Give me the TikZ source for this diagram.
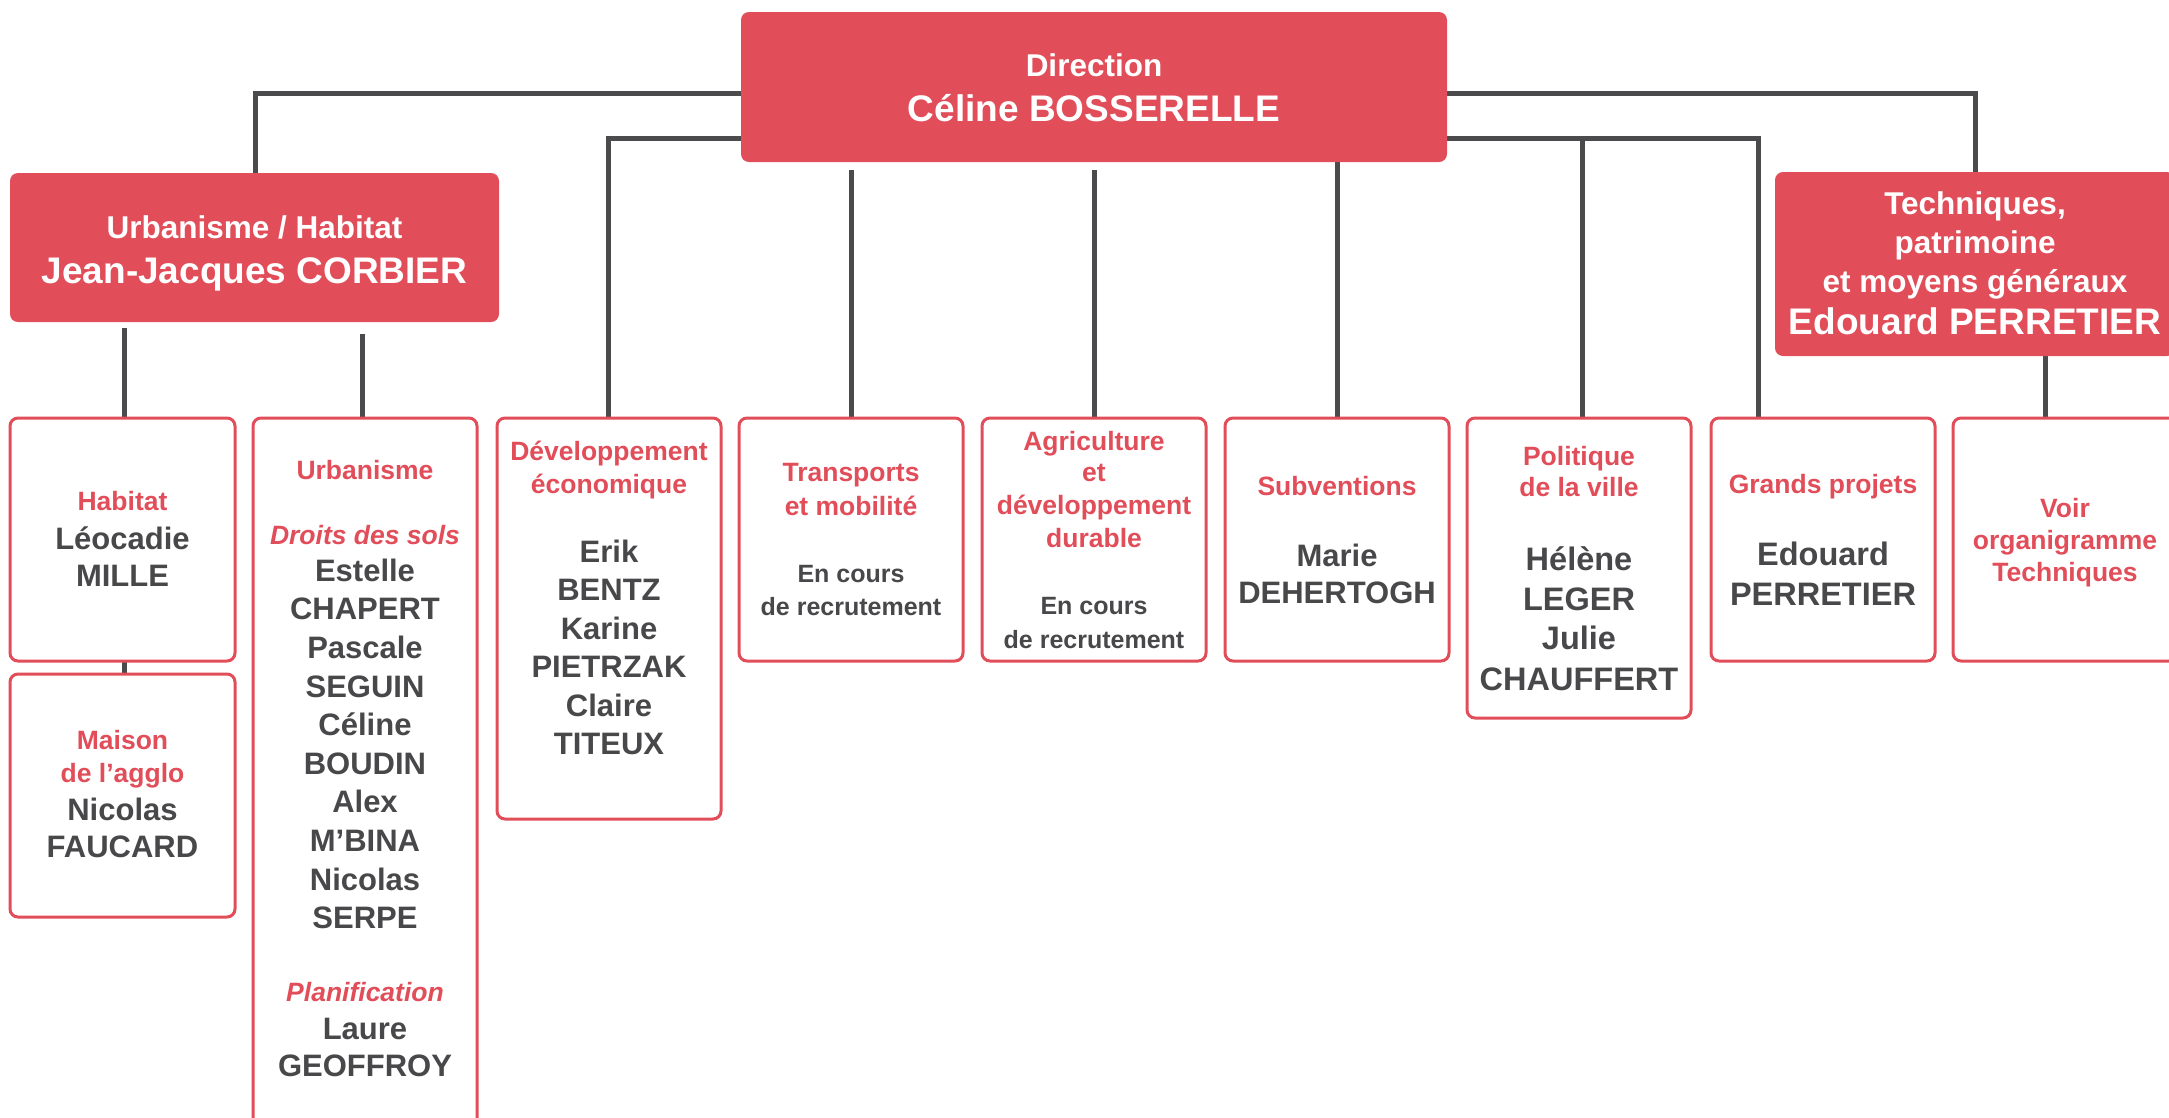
\documentclass[tikz,border=0pt]{standalone}
\usepackage{fontspec}
\setmainfont{Liberation Sans}
\definecolor{rd}{RGB}{225,77,89}
\definecolor{dk}{RGB}{72,72,74}
\definecolor{ln}{RGB}{75,75,77}
\pgfdeclarelayer{bg}
\pgfsetlayers{bg,main}
\begin{document}
\begin{tikzpicture}[x=1pt,y=-1pt,
 head/.style={fill=rd, draw=none, rounded corners=8pt, inner sep=0pt, outer sep=0pt},
 unit/.style={fill=white, draw=rd, line width=3pt, rounded corners=8pt, inner sep=0pt, outer sep=0pt},
 conn/.style={draw=ln, line width=5pt, line join=miter},
 hs/.style={text=white, font=\fontsize{31.5}{36}\selectfont\bfseries, anchor=base, inner sep=0pt},
 hn/.style={text=white, font=\fontsize{37}{42}\selectfont\bfseries, anchor=base, inner sep=0pt},
 rt/.style={text=rd, font=\fontsize{26.5}{30}\selectfont\bfseries, anchor=base, inner sep=0pt},
 ri/.style={text=rd, font=\fontsize{26.5}{30}\selectfont\bfseries\itshape, anchor=base, inner sep=0pt},
 nm/.style={text=dk, font=\fontsize{31}{36}\selectfont\bfseries, anchor=base, inner sep=0pt},
 nmb/.style={text=dk, font=\fontsize{32.5}{36}\selectfont\bfseries, anchor=base, inner sep=0pt},
 rc/.style={text=dk, font=\fontsize{25}{30}\selectfont\bfseries, anchor=base, inner sep=0pt}]
\path[use as bounding box, clip] (0,0) rectangle (2169,1117);

% header boxes
\node[head, minimum width=706pt, minimum height=150pt] (dir) at (1094,87) {};
\node[head, minimum width=489pt, minimum height=149pt] (corb) at (254.5,247.5) {};
\node[head, minimum width=400pt, minimum height=184pt] (tech) at (1975,264) {};

% unit boxes
\node[unit, minimum width=225pt, minimum height=243pt] (habitat) at (122.5,539.5) {};
\node[unit, minimum width=225pt, minimum height=243pt] (maison) at (122.5,795.5) {};
\node[unit, minimum width=224pt, minimum height=712pt] (urb) at (365,774) {};
\node[unit, minimum width=224pt, minimum height=401pt] (dev) at (609,618.5) {};
\node[unit, minimum width=224pt, minimum height=243pt] (trans) at (851,539.5) {};
\node[unit, minimum width=224pt, minimum height=243pt] (agri) at (1094,539.5) {};
\node[unit, minimum width=224pt, minimum height=243pt] (subv) at (1337,539.5) {};
\node[unit, minimum width=224pt, minimum height=300pt] (pol) at (1579,568) {};
\node[unit, minimum width=224pt, minimum height=243pt] (gp) at (1823,539.5) {};
\node[unit, minimum width=224pt, minimum height=243pt] (voir) at (2065,539.5) {};

% connectors
\coordinate (j2) at (1582,138);
\coordinate (d1) at (851,170);
\coordinate (d2) at (1094,170);
\coordinate (c1) at (124,328);
\coordinate (c2) at (362,334);
\begin{pgfonlayer}{bg}
\draw[conn] (255,0 |- corb.north) -- (255,93) -| (1975,0 |- tech.north);
\draw[conn] (608,0 |- dev.north) -- (608,138) -| (1758,0 |- gp.north);
\draw[conn] (j2) -- (1582,0 |- pol.north);
\draw[conn] (d1) -- (851,0 |- trans.north);
\draw[conn] (d2) -- (1094,0 |- agri.north);
\draw[conn] (1337,0 |- dir.south) -- (1337,0 |- subv.north);
\draw[conn] (c1) -- (124,0 |- habitat.north);
\draw[conn] (c2) -- (362,0 |- urb.north);
\draw[conn] (124,0 |- habitat.south) -- (124,0 |- maison.north);
\draw[conn] (2045,0 |- tech.south) -- (2045,0 |- voir.north);
\end{pgfonlayer}

% header texts
\node[hs] (dir1) at (1094,76.3) {Direction};
\node[hn] (dir2) at (1094,121.3) {Céline BOSSERELLE};
\node[hs] (corb1) at (254.5,238.3) {Urbanisme / Habitat};
\node[hn] (corb2) at (254.5,283.3) {Jean-Jacques CORBIER};
\node[hs] (tech1) at (1975,214.3) {Techniques,};
\node[hs] (tech2) at (1975,253.3) {patrimoine};
\node[hs] (tech3) at (1975,292.3) {et moyens généraux};
\node[hn] (tech4) at (1975,334.3) {Edouard PERRETIER};

% Habitat
\node[rt] (hab1) at (122.5,510.5) {Habitat};
\node[nm] (hab2) at (122.5,549.2) {Léocadie};
\node[nm] (hab3) at (122.5,586.2) {MILLE};
% Maison
\node[rt] (mai1) at (122.5,749) {Maison};
\node[rt] (mai2) at (122.5,782) {de l’agglo};
\node[nm] (mai3) at (122.5,820.5) {Nicolas};
\node[nm] (mai4) at (122.5,857.5) {FAUCARD};
% Urbanisme
\node[rt] (urb1) at (365,479.5) {Urbanisme};
\node[ri] (urb2) at (365,544) {Droits des sols};
\node[nm] (urb3) at (365,581.2) {Estelle};
\node[nm] (urb4) at (365,619.8) {CHAPERT};
\node[nm] (urb5) at (365,658.4) {Pascale};
\node[nm] (urb6) at (365,697) {SEGUIN};
\node[nm] (urb7) at (365,735.6) {Céline};
\node[nm] (urb8) at (365,774.2) {BOUDIN};
\node[nm] (urb9) at (365,812.8) {Alex};
\node[nm] (urb10) at (365,851.4) {M’BINA};
\node[nm] (urb11) at (365,890) {Nicolas};
\node[nm] (urb12) at (365,928.6) {SERPE};
\node[ri] (urb13) at (365,1001) {Planification};
\node[nm] (urb14) at (365,1039.2) {Laure};
\node[nm] (urb15) at (365,1076.2) {GEOFFROY};
% Dev eco
\node[rt] (dev1) at (609,460.5) {Développement};
\node[rt] (dev2) at (609,493.5) {économique};
\node[nm] (dev3) at (609,562) {Erik};
\node[nm] (dev4) at (609,600.5) {BENTZ};
\node[nm] (dev5) at (609,639) {Karine};
\node[nm] (dev6) at (609,677.5) {PIETRZAK};
\node[nm] (dev7) at (609,716) {Claire};
\node[nm] (dev8) at (609,754.5) {TITEUX};
% Transports
\node[rt] (tra1) at (851,481.5) {Transports};
\node[rt] (tra2) at (851,515.5) {et mobilité};
\node[rc] (tra3) at (851,582) {En cours};
\node[rc] (tra4) at (851,615) {de recrutement};
% Agriculture
\node[rt] (agr1) at (1094,450.5) {Agriculture};
\node[rt] (agr2) at (1094,481.5) {et};
\node[rt] (agr3) at (1094,514.5) {développement};
\node[rt] (agr4) at (1094,547.5) {durable};
\node[rc] (agr5) at (1094,614) {En cours};
\node[rc] (agr6) at (1094,648) {de recrutement};
% Subventions
\node[rt] (sub1) at (1337,495.5) {Subventions};
\node[nm] (sub2) at (1337,566.2) {Marie};
\node[nm] (sub3) at (1337,603.2) {DEHERTOGH};
% Politique
\node[rt] (pol1) at (1579,465.5) {Politique};
\node[rt] (pol2) at (1579,496.5) {de la ville};
\node[nmb] (pol3) at (1579,570.5) {Hélène};
\node[nmb] (pol4) at (1579,610.5) {LEGER};
\node[nmb] (pol5) at (1579,649.5) {Julie};
\node[nmb] (pol6) at (1579,690.5) {CHAUFFERT};
% Grands projets
\node[rt] (gp1) at (1823,493.5) {Grands projets};
\node[nmb] (gp2) at (1823,565.9) {Edouard};
\node[nmb] (gp3) at (1823,605.9) {PERRETIER};
% Voir
\node[rt] (voi1) at (2065,517.5) {Voir};
\node[rt] (voi2) at (2065,549.5) {organigramme};
\node[rt] (voi3) at (2065,581.5) {Techniques};
\end{tikzpicture}
\end{document}
